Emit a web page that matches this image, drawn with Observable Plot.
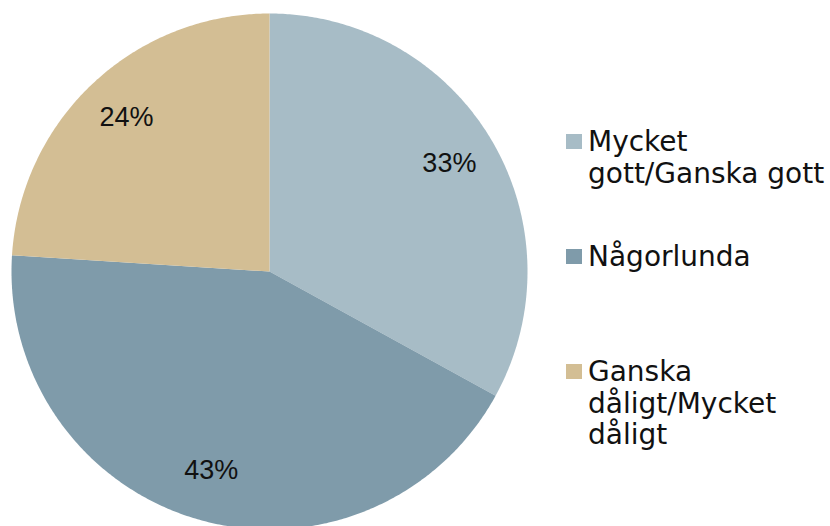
<!DOCTYPE html>
<html>
<head>
<meta charset="utf-8">
<script src="https://cdn.jsdelivr.net/npm/d3@7"></script>
<script src="https://cdn.jsdelivr.net/npm/@observablehq/plot@0.6"></script>
<style>
  html, body { margin: 0; padding: 0; background: #fff; }
  #wrap { position: relative; width: 830px; height: 526px; overflow: hidden; }
  #legend { position: absolute; left: 0; top: 0; font-family: "DejaVu Sans", sans-serif; font-size: 28px; color: #111; }
  .item { position: absolute; left: 588px; line-height: 32px; white-space: nowrap; }
  .sw { position: absolute; width: 16px; height: 15px; }
</style>
</head>
<body>
<div id="wrap"></div>
<script>
const categories = ["Mycket gott/Ganska gott", "Någorlunda", "Ganska dåligt/Mycket dåligt"];
const legendLines = [["Mycket", "gott/Ganska gott"], ["Någorlunda"], ["Ganska", "dåligt/Mycket", "dåligt"]];
const values = [33, 43, 24];
const colors = ["#A7BCC6", "#7F9BAA", "#D3BE94"];

const total = d3.sum(values);
let acc = 0;
const slices = values.map((v, i) => {
  const a0 = acc / total * 2 * Math.PI;
  acc += v;
  const a1 = acc / total * 2 * Math.PI;
  return {category: categories[i], value: v, a0, a1, color: colors[i]};
});

const features = slices.map(s => {
  const n = Math.max(2, Math.ceil((s.a1 - s.a0) / (Math.PI / 360)));
  const ring = [[0, 0]];
  for (let k = 0; k <= n; k++) {
    const a = s.a0 + (s.a1 - s.a0) * k / n;
    ring.push([Math.sin(a), Math.cos(a)]);
  }
  ring.push([0, 0]);
  return {type: "Feature", properties: s, geometry: {type: "Polygon", coordinates: [ring]}};
});

const labels = slices.map(s => {
  const m = (s.a0 + s.a1) / 2;
  return {text: s.value + "%", x: 0.81 * Math.sin(m), y: 0.81 * Math.cos(m)};
});

const projection = d3.geoIdentity().reflectY(true).scale(258).translate([269, 271]);

const chart = Plot.plot({
  width: 830,
  height: 526,
  margin: 0,
  projection,
  style: {background: "transparent", overflow: "visible"},
  marks: [
    Plot.geo(features, {fill: d => d.properties.color}),
    Plot.text(labels, {x: "x", y: "y", text: "text", fontSize: 27, dy: -2, fill: "#111", fontFamily: "Liberation Sans, Arial, sans-serif"})
  ]
});

const wrap = document.getElementById("wrap");
wrap.appendChild(chart);

// legend
const legend = document.createElement("div");
legend.id = "legend";
const tops = [126, 241, 356];
const lh = [32, 32, 31.5];
legendLines.forEach((lines, i) => {
  const sw = document.createElement("div");
  sw.className = "sw";
  sw.style.left = "566px";
  sw.style.top = (tops[i] + 8) + "px";
  sw.style.background = colors[i];
  legend.appendChild(sw);
  const item = document.createElement("div");
  item.className = "item";
  item.style.top = tops[i] + "px";
  item.style.lineHeight = lh[i] + "px";
  item.innerHTML = lines.join("<br>");
  legend.appendChild(item);
});
wrap.appendChild(legend);
</script>
</body>
</html>
